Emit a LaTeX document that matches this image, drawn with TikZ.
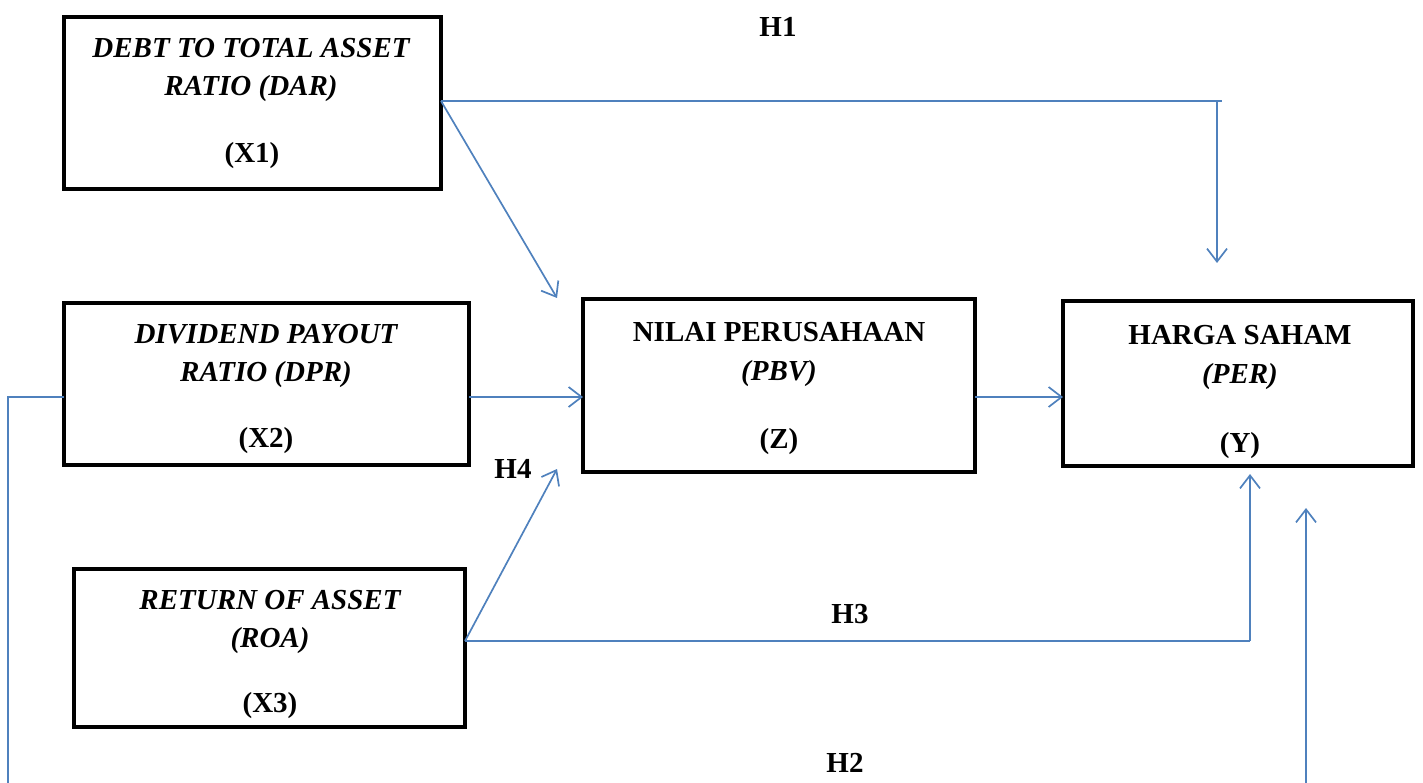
\documentclass[tikz,border=0pt]{standalone}
\usepackage{fontspec}
\setmainfont{Liberation Serif}
\usetikzlibrary{arrows.meta}
\definecolor{lnblue}{HTML}{4F81BD}
\begin{document}
\begin{tikzpicture}[x=1pt,y=-1pt,
  box/.style={draw=black, line width=4pt, inner sep=0pt, outer sep=0pt},
  lbl/.style={font=\fontsize{29}{33}\selectfont\bfseries, text height=19pt, text depth=0pt, inner sep=0pt, anchor=center},
  conn/.style={draw=lnblue, line width=1.7pt},
  arr/.style={conn, -{Straight Barb[length=13pt,width=20pt]}}]
\useasboundingbox (0,0) rectangle (1423,783);
% boxes
\node[box, minimum width=377pt, minimum height=172pt] (x1) at (252.5,103) {};
\node[box, minimum width=405pt, minimum height=162pt] (x2) at (266.5,384) {};
\node[box, minimum width=391pt, minimum height=158pt] (x3) at (269.5,648) {};
\node[box, minimum width=392pt, minimum height=173pt] (z) at (779,385.5) {};
\node[box, minimum width=350pt, minimum height=165pt] (y) at (1238,383.5) {};
% texts
\node[lbl] (x1a) at (251,48) {\itshape DEBT TO TOTAL ASSET};
\node[lbl] (x1b) at (251,86) {\itshape RATIO (DAR)};
\node[lbl] (x1c) at (252,153) {(X1)};
\node[lbl] (x2a) at (266,334) {\itshape DIVIDEND PAYOUT};
\node[lbl] (x2b) at (266,372) {\itshape RATIO (DPR)};
\node[lbl] (x2c) at (266,438) {(X2)};
\node[lbl] (x3a) at (270,600) {\itshape RETURN OF ASSET};
\node[lbl] (x3b) at (270,638) {\itshape (ROA)};
\node[lbl] (x3c) at (270,703) {(X3)};
\node[lbl] (za) at (779,332) {NILAI PERUSAHAAN};
\node[lbl] (zb) at (779,371) {\itshape (PBV)};
\node[lbl] (zc) at (779,439) {(Z)};
\node[lbl] (ya) at (1240,335) {HARGA SAHAM};
\node[lbl] (yb) at (1240,374) {\itshape (PER)};
\node[lbl] (yc) at (1240,443) {(Y)};
\node[lbl] (h1) at (778,27) {H1};
\node[lbl] (h4) at (513,469) {H4};
\node[lbl] (h3) at (850,614) {H3};
\node[lbl] (h2) at (845,763) {H2};
% helper coordinates
\coordinate (r1) at (0,101);
\coordinate (r2) at (0,397);
\coordinate (r3) at (0,641);
\coordinate (h1end) at (1222,101);
\coordinate (h1turn) at (1217,101);
\coordinate (h1tip) at (1217,263);
\coordinate (ztipa) at (557,298);
\coordinate (ztipb) at (557,469);
\coordinate (h3turn) at (1250,641);
\coordinate (h3tip) at (1250,474);
\coordinate (lft) at (8,397);
\coordinate (lftbot) at (8,783);
\coordinate (rgtbot) at (1306,783);
\coordinate (rgttip) at (1306,508);
% connectors
\draw[conn] (x1.east |- r1) -- (h1end);
\draw[arr] (h1turn) -- (h1tip);
\draw[arr] (x1.east |- r1) -- (ztipa);
\draw[arr] (x2.east |- r2) -- (z.west |- r2);
\draw[arr] (z.east |- r2) -- (y.west |- r2);
\draw[conn] (x2.west |- r2) -- (lft) -- (lftbot);
\draw[arr] (rgtbot) -- (rgttip);
\draw[arr] (x3.east |- r3) -- (ztipb);
\draw[conn] (x3.east |- r3) -- (h3turn);
\draw[arr] (h3turn) -- (h3tip);
\end{tikzpicture}
\end{document}
